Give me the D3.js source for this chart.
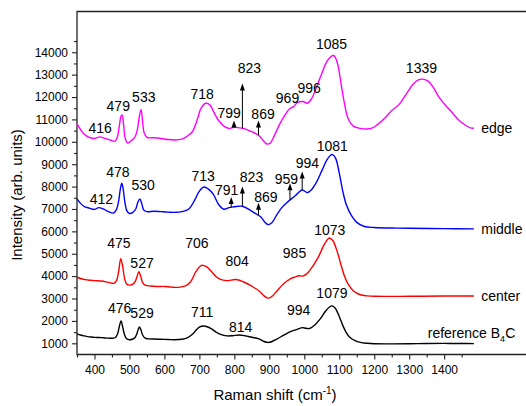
<!DOCTYPE html>
<html>
<head>
<meta charset="utf-8">
<script src="https://cdn.jsdelivr.net/npm/d3@7"></script>
<style>
  html, body { margin: 0; padding: 0; background: #fff; }
  svg { display: block; font-family: "Liberation Sans", Arial, sans-serif; }
</style>
</head>
<body>
<svg id="chart" width="526" height="406"></svg>
<script>
// Raman spectra of B4C samples, offset vertically: [wavenumber, intensity]
const edgeSpectrum = [[350,10800],[360,10550],[370,10350],[385,10200],[400,10150],[416,10220],[430,10150],[445,10080],[458,10020],[465,10200],[471,10700],[476,11150],[479,11200],[483,10800],[488,10150],[495,9950],[505,10050],[515,10200],[522,10500],[527,11000],[533,11450],[537,11000],[542,10400],[550,10200],[570,10180],[590,10150],[610,10100],[630,10080],[650,10120],[665,10250],[680,10450],[692,10900],[705,11500],[718,11720],[730,11650],[742,11300],[755,10950],[770,10700],[785,10600],[799,10650],[815,10620],[830,10580],[850,10450],[869,10300],[883,10050],[893,9900],[903,9950],[915,10300],[930,10800],[945,11200],[958,11480],[969,11560],[980,11750],[996,11800],[1008,11720],[1020,11900],[1035,12450],[1050,13050],[1065,13600],[1078,13830],[1085,13850],[1095,13500],[1105,12600],[1115,11700],[1125,11050],[1140,10700],[1160,10600],[1178,10570],[1195,10620],[1210,10780],[1230,11050],[1250,11400],[1270,11650],[1290,12100],[1310,12550],[1325,12750],[1339,12800],[1355,12700],[1370,12400],[1385,12000],[1400,11700],[1420,11350],[1440,11000],[1460,10750],[1475,10620],[1485,10610]];

const middleSpectrum = [[350,7450],[360,7250],[370,7120],[385,7040],[400,6980],[412,7060],[425,7000],[440,6880],[455,6820],[463,6980],[469,7350],[474,7900],[478,8150],[482,7900],[487,7300],[493,6900],[500,6800],[510,6850],[518,7000],[524,7300],[530,7450],[535,7250],[541,6950],[550,6880],[570,6900],[590,6880],[610,6860],[630,6850],[650,6880],[670,7000],[685,7350],[700,7800],[713,7980],[725,7900],[740,7650],[755,7200],[770,6990],[785,7060],[800,7100],[823,7120],[845,6950],[860,6800],[875,6650],[888,6400],[897,6300],[907,6380],[920,6700],[935,7050],[950,7280],[959,7400],[975,7600],[994,7850],[1008,7730],[1020,7850],[1035,8200],[1050,8700],[1065,9200],[1075,9400],[1081,9430],[1090,9250],[1100,8600],[1110,7800],[1120,7200],[1135,6700],[1150,6400],[1170,6230],[1200,6170],[1250,6150],[1300,6140],[1400,6120],[1485,6110]];

const centerSpectrum = [[350,3950],[365,3870],[380,3830],[400,3800],[420,3780],[440,3720],[455,3680],[463,3800],[469,4200],[475,4780],[481,4400],[486,3900],[492,3650],[500,3600],[510,3640],[517,3780],[522,4000],[527,4200],[532,4000],[538,3700],[545,3600],[560,3560],[580,3540],[600,3540],[620,3510],[640,3500],[660,3560],[675,3750],[690,4200],[706,4480],[720,4420],[735,4200],[750,3950],[765,3830],[780,3800],[804,3850],[825,3750],[850,3550],[870,3350],[885,3120],[895,3020],[905,3060],[920,3300],[940,3650],[960,3880],[975,3970],[985,4020],[995,4000],[1005,4080],[1020,4350],[1040,4850],[1055,5350],[1067,5650],[1073,5700],[1082,5580],[1095,5050],[1105,4500],[1115,4000],[1125,3650],[1140,3350],[1160,3170],[1180,3120],[1200,3100],[1300,3100],[1400,3110],[1485,3110]];

const referenceSpectrum = [[350,1420],[360,1370],[370,1330],[380,1300],[390,1280],[400,1265],[410,1260],[420,1255],[430,1240],[440,1230],[450,1225],[460,1260],[466,1420],[471,1750],[476,2000],[481,1700],[486,1380],[492,1200],[500,1160],[508,1180],[515,1240],[521,1420],[525,1620],[529,1730],[533,1600],[538,1360],[545,1230],[555,1200],[570,1190],[590,1180],[610,1170],[630,1160],[650,1180],[665,1240],[680,1400],[690,1580],[700,1720],[711,1770],[722,1740],[735,1640],[750,1480],[765,1380],[780,1330],[795,1340],[814,1370],[830,1340],[850,1270],[870,1200],[885,1080],[895,1040],[905,1060],[920,1180],[940,1350],[960,1520],[975,1600],[994,1700],[1005,1670],[1015,1660],[1030,1820],[1045,2080],[1060,2420],[1072,2620],[1079,2670],[1088,2580],[1100,2200],[1110,1800],[1120,1480],[1130,1270],[1145,1120],[1160,1040],[1180,1000],[1200,980],[1250,975],[1300,980],[1350,990],[1400,995],[1450,990],[1485,985]];

const seriesNames = ["edge", "middle", "center", "reference B4C"];
const seriesColors = ["#ff00ff", "#0000ff", "#ff0000", "#000000"];
const seriesData = [edgeSpectrum, middleSpectrum, centerSpectrum, referenceSpectrum];

// Peak labels: [text, wavenumber, intensity]
const edgePeaks = [["416",416,10600],["479",468,11600],["533",541,11990],["718",708,12120],["799",785,11300],["823",843,13300],["869",882,11240],["969",952,11970],["996",1014,12420],["1085",1078,14370],["1339",1335,13280]];
const middlePeaks = [["412",420,7430],["478",467,8650],["530",539,8070],["713",711,8470],["791",778,7850],["823",849,8440],["869",890,7530],["959",949,8340],["994",1009,9070],["1081",1080,9830]];
const centerPeaks = [["475",470,5480],["527",536,4590],["706",693,5480],["804",808,4700],["985",972,5050],["1073",1073,6080]];
const referencePeaks = [["476",472,2580],["529",536,2360],["711",708,2400],["814",818,1720],["994",984,2480],["1079",1079,3240]];

// Arrows marking weak bands: [wavenumber, tip intensity]
const edgeArrows = [[799,10950],[823,12600],[869,10950]];
const middleArrows = [[791,7530],[823,8000],[869,7280],[959,8150],[994,8670]];

// Series name positions at the right end: [wavenumber, intensity]
const nameAnchors = [[1506,10630],[1506,6090],[1506,3110],[1353,1450]];

const xMajor = d3.range(400, 1401, 100);
const xMinor = d3.range(350, 1451, 100);
const yMajor = d3.range(1000, 14001, 1000);
const yMinor = d3.range(1500, 14501, 1000);

(function () {
  const svg = d3.select("#chart");
  const plotLeft = 77, plotRight = 526, plotTop = 11.5, plotBottom = 354.5;

  const x = d3.scaleLinear().domain([350, 1634]).range([plotLeft, plotRight]);
  const y = d3.scaleLinear().domain([500, 15820]).range([plotBottom, plotTop]);

  const axisColor = "#222";

  // frame: left, top and bottom lines
  svg.append("path")
    .attr("d", `M${plotRight},${plotTop}H${plotLeft}V${plotBottom}H${plotRight}`)
    .attr("fill", "none").attr("stroke", axisColor).attr("stroke-width", 1.3);

  function styleAxis(g) {
    g.select(".domain").remove();
    g.selectAll("line").attr("stroke", axisColor).attr("stroke-width", 1.1);
    g.selectAll("text").attr("fill", "#000").style("font-size", "12px")
      .style("font-family", "'Liberation Sans', Arial, sans-serif");
  }

  svg.append("g").attr("transform", `translate(0,${plotBottom})`)
    .call(d3.axisBottom(x).tickValues(xMajor).tickSize(5).tickPadding(6).tickFormat(d3.format("d")))
    .call(styleAxis);
  svg.append("g").attr("transform", `translate(0,${plotBottom})`)
    .call(d3.axisBottom(x).tickValues(xMinor).tickSize(3).tickFormat(""))
    .call(styleAxis);

  svg.append("g").attr("transform", `translate(${plotLeft},0)`)
    .call(d3.axisLeft(y).tickValues(yMajor).tickSize(5).tickPadding(4).tickFormat(d3.format("d")))
    .call(styleAxis);
  svg.append("g").attr("transform", `translate(${plotLeft},0)`)
    .call(d3.axisLeft(y).tickValues(yMinor).tickSize(3).tickFormat(""))
    .call(styleAxis);

  // axis titles
  svg.append("text")
    .attr("transform", `translate(22,${(plotTop + plotBottom) / 2 + 12}) rotate(-90)`)
    .attr("text-anchor", "middle").style("font-size", "15px")
    .text("Intensity (arb. units)");

  const xt = svg.append("text")
    .attr("x", 275).attr("y", 400).attr("text-anchor", "middle").style("font-size", "15px");
  xt.append("tspan").text("Raman shift (cm");
  xt.append("tspan").attr("dy", -6).style("font-size", "10px").text("-1");
  xt.append("tspan").attr("dy", 6).text(")");

  // spectra
  const line = d3.line().x(d => x(d[0])).y(d => y(d[1])).curve(d3.curveCatmullRom.alpha(0.5));
  seriesData.forEach((data, i) => {
    svg.append("path").datum(data)
      .attr("fill", "none").attr("stroke", seriesColors[i]).attr("stroke-width", 1.4)
      .attr("stroke-linejoin", "round").attr("d", line);
  });

  // peak labels
  function drawPeaks(list) {
    svg.append("g").selectAll("text").data(list).join("text")
      .attr("x", d => x(d[1])).attr("y", d => y(d[2]))
      .attr("dy", "0.36em").attr("text-anchor", "middle").style("font-size", "14px")
      .text(d => d[0]);
  }
  [edgePeaks, middlePeaks, centerPeaks, referencePeaks].forEach(drawPeaks);

  // arrows rising from the curve
  function valueAt(data, wn) {
    for (let i = 1; i < data.length; i++) {
      if (data[i][0] >= wn) {
        const a = data[i - 1], b = data[i];
        return a[1] + (b[1] - a[1]) * (wn - a[0]) / (b[0] - a[0]);
      }
    }
    return data[data.length - 1][1];
  }
  function drawArrows(list, data) {
    const g = svg.append("g");
    list.forEach(([wn, tip]) => {
      const px = x(wn), base = y(valueAt(data, wn)), ty = y(tip);
      g.append("line").attr("x1", px).attr("x2", px).attr("y1", base).attr("y2", ty + 5)
        .attr("stroke", "#000").attr("stroke-width", 1);
      g.append("path").attr("d", `M${px},${ty}L${px - 2.5},${ty + 7}L${px + 2.5},${ty + 7}Z`).attr("fill", "#000");
    });
  }
  drawArrows(edgeArrows, edgeSpectrum);
  drawArrows(middleArrows, middleSpectrum);

  // series names
  seriesNames.forEach((name, i) => {
    const t = svg.append("text")
      .attr("x", x(nameAnchors[i][0])).attr("y", y(nameAnchors[i][1]))
      .attr("dy", "0.36em").style("font-size", "14px");
    if (name === "reference B4C") {
      t.append("tspan").text("reference B");
      t.append("tspan").attr("dy", 4).style("font-size", "9px").text("4");
      t.append("tspan").attr("dy", -4).text("C");
    } else {
      t.text(name);
    }
  });
})();
</script>
</body>
</html>
